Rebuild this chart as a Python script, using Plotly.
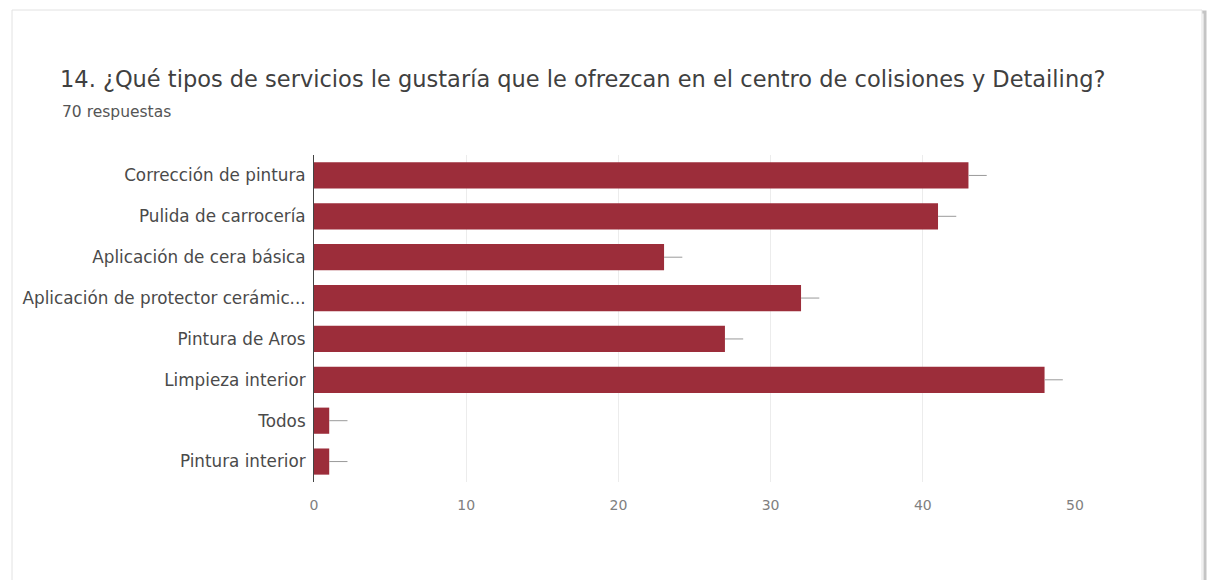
import plotly.graph_objects as go

# Survey answers (horizontal bar chart, top to bottom)
categories = [
    "Corrección de pintura",
    "Pulida de carrocería",
    "Aplicación de cera básica",
    "Aplicación de protector cerámic...",
    "Pintura de Aros",
    "Limpieza interior",
    "Todos",
    "Pintura interior",
]
counts = [43, 41, 23, 32, 27, 48, 1, 1]
whisker = [1.2, 1.2, 1.2, 1.2, 1.2, 1.2, 1.2, 1.2]
x_ticks = [0, 10, 20, 30, 40, 50]

title_text = "14. ¿Qué tipos de servicios le gustaría que le ofrezcan en el centro de colisiones y Detailing?"
subtitle_text = "70 respuestas"

W, H = 1211, 580
L, R, T, B = 314, 1075, 155, 482
pw, ph = R - L, B - T


def px(x):
    return (x - L) / pw


def py(y):
    return 1 - (y - T) / ph


fig = go.Figure(
    go.Bar(
        y=categories,
        x=counts,
        orientation="h",
        marker=dict(color="#9c2d3a", line=dict(width=0)),
        error_x=dict(type="data", array=whisker, arrayminus=[0] * len(whisker),
                     symmetric=False, color="#9a9a9a", thickness=1, width=0),
        hoverinfo="x+y",
    )
)

# card frame with a soft shadow on the right
fig.add_shape(type="rect", xref="paper", yref="paper",
              x0=px(14), x1=px(1205), y0=py(12), y1=py(600),
              line=dict(color="#c4c4c4", width=3), fillcolor="rgba(0,0,0,0)", layer="below")
fig.add_shape(type="rect", xref="paper", yref="paper",
              x0=px(12), x1=px(1202), y0=py(10), y1=py(600),
              line=dict(color="#e2e2e2", width=1), fillcolor="white", layer="below")

fig.add_annotation(xref="paper", yref="paper", x=px(60), y=py(112),
                   text=subtitle_text, showarrow=False, xanchor="left", yanchor="middle",
                   font=dict(family="DejaVu Sans, Arial", size=15.5, color="#555555"))

fig.update_layout(
    width=W, height=H,
    margin=dict(l=L, r=W - R, t=T, b=H - B),
    paper_bgcolor="white",
    plot_bgcolor="white",
    bargap=0.36,
    showlegend=False,
    title=dict(text=title_text, xref="container", yref="container",
               x=60 / W, y=1 - 79 / H, xanchor="left", yanchor="middle",
               font=dict(family="DejaVu Sans, Arial", size=22.5, color="#404040")),
    xaxis=dict(range=[0, 50], tickvals=x_ticks, showgrid=True, gridcolor="#ececec",
               gridwidth=1, zeroline=False, showline=False,
               tickfont=dict(family="DejaVu Sans, Arial", size=14, color="#808080"),
               ticklabelstandoff=13, fixedrange=True),
    yaxis=dict(autorange="reversed", showline=True, linecolor="#444444", linewidth=1,
               showgrid=False, ticks="", ticklabelstandoff=4,
               tickfont=dict(family="DejaVu Sans, Arial", size=16.8, color="#4a4a4a"),
               fixedrange=True),
)

fig.write_html("out.html")
